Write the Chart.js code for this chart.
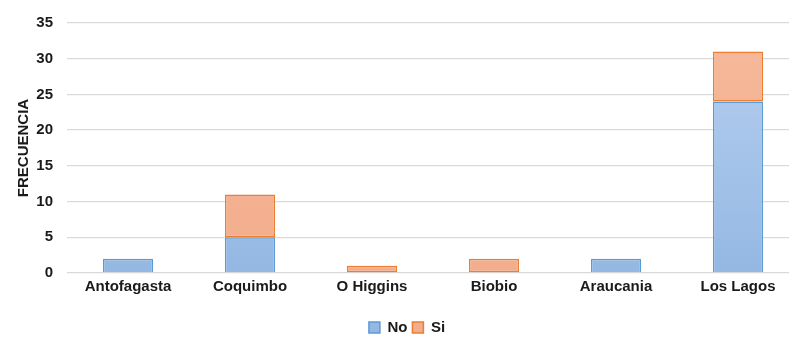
<!DOCTYPE html>
<html>
<head>
<meta charset="utf-8">
<script src="https://cdn.jsdelivr.net/npm/chart.js@4/dist/chart.umd.min.js"></script>
<style>
  html, body { margin: 0; padding: 0; background: #ffffff; overflow: hidden; }
  #wrap { position: relative; width: 812px; height: 339px; }
</style>
</head>
<body>
<div id="wrap"><canvas id="c" width="812" height="339"></canvas></div>
<script>
// Regiones y frecuencias por respuesta
const regiones = ['Antofagasta', 'Coquimbo', 'O Higgins', 'Biobio', 'Araucania', 'Los Lagos'];
const valoresNo = [2, 5, 0, 0, 2, 24];
const valoresSi = [0, 6, 1, 2, 0, 7];
const ticksY = [0, 5, 10, 15, 20, 25, 30, 35];

const FONT = '"Liberation Sans Narrow", "Arial Narrow", "Liberation Sans", Arial, sans-serif';

function vertGradient(ctx, area, top, bottom) {
  const g = ctx.createLinearGradient(0, area.top, 0, area.bottom);
  g.addColorStop(0, top);
  g.addColorStop(1, bottom);
  return g;
}

const nullZeros = arr => arr.map(v => (v === 0 ? null : v));

new Chart(document.getElementById('c'), {
  type: 'bar',
  data: {
    labels: regiones,
    datasets: [
      {
        label: 'No',
        data: nullZeros(valoresNo),
        backgroundColor: (c) => {
          const a = c.chart.chartArea;
          if (!a) return '#a4c2e8';
          return vertGradient(c.chart.ctx, a, '#b8d0f0', '#94b8e3');
        },
        borderColor: '#5b9bd5',
        borderWidth: 1.5,
        borderSkipped: 'start'
      },
      {
        label: 'Si',
        data: nullZeros(valoresSi),
        backgroundColor: (c) => {
          const a = c.chart.chartArea;
          if (!a) return '#f4b496';
          return vertGradient(c.chart.ctx, a, '#f6b99b', '#f2ad8c');
        },
        borderColor: '#ed7d31',
        borderWidth: 1.5,
        borderSkipped: false
      }
    ]
  },
  options: {
    responsive: false,
    animation: false,
    layout: { padding: { top: 17, right: 13, left: 15, bottom: -6 } },
    datasets: {
      bar: { categoryPercentage: 1.0, barPercentage: 0.41 }
    },
    scales: {
      x: {
        stacked: true,
        grid: { display: false, drawTicks: false },
        border: { display: false },
        ticks: {
          color: '#1a1a1a',
          font: { family: FONT, size: 15, weight: 'bold' },
          padding: 5,
          maxRotation: 0
        },
        afterFit: (s) => {
          s.height += 14;
          s.paddingLeft = 0;
          s.paddingRight = 0;
        }
      },
      y: {
        stacked: true,
        min: 0,
        max: 35,
        afterBuildTicks: (s) => { s.ticks = ticksY.map(v => ({ value: v })); },
        grid: { color: '#d9d9d9', lineWidth: 1.3, drawTicks: false },
        border: { display: false },
        ticks: {
          color: '#1a1a1a',
          font: { family: FONT, size: 15, weight: 'bold' },
          padding: 14
        },
        title: {
          display: true,
          text: 'FRECUENCIA',
          color: '#1a1a1a',
          font: { family: FONT, size: 15, weight: 'bold' },
          padding: { top: 0, bottom: 3 }
        },
        afterFit: (s) => { s.width = 52; }
      }
    },
    plugins: {
      legend: {
        position: 'bottom',
        labels: {
          color: '#1a1a1a',
          font: { family: FONT, size: 15, weight: 'bold' },
          boxWidth: 11,
          boxHeight: 11,
          padding: 5
        }
      },
      tooltip: { enabled: false }
    }
  }
});
</script>
</body>
</html>
